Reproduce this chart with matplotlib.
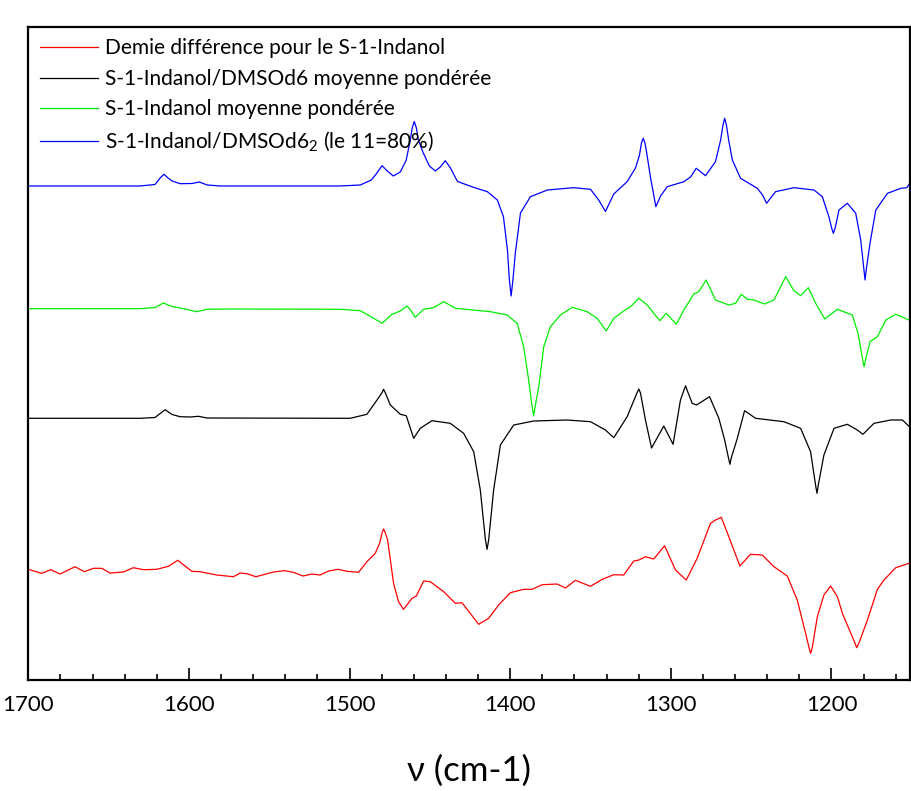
import matplotlib
matplotlib.use("Agg")
import matplotlib.pyplot as plt
from matplotlib.ticker import MultipleLocator

plt.rcParams['font.family'] = ['Lato', 'DejaVu Sans']
plt.rcParams['mathtext.fontset'] = 'custom'
plt.rcParams['mathtext.rm'] = 'Lato'

# Demie différence pour le S-1-Indanol (rouge)
wn_red = [1700, 1691.7, 1686, 1680.2, 1670.9, 1665.1, 1659.5, 1654.3, 1649.1, 1640.8,
          1634.6, 1628.3, 1620, 1612.8, 1606.9, 1598.2, 1593, 1582.6, 1572.3, 1568.1,
          1563.9, 1558.3, 1547.4, 1540.5, 1534.9, 1529, 1523.4, 1518.3, 1513.1, 1507.2,
          1501.6, 1494.4, 1489.2, 1484, 1481.3, 1479.6, 1478.8, 1477.9, 1476.3, 1472.6,
          1469.5, 1466.4, 1461.1, 1458.4, 1453.9, 1449.7, 1441.4, 1434.1, 1430, 1419.6,
          1413.4, 1407.2, 1399.9, 1391.6, 1386.4, 1380.1, 1370.8, 1365.6, 1359.4, 1350,
          1342.7, 1335.5, 1329.3, 1323.1, 1319.9, 1315.8, 1310.6, 1303.9, 1297.1, 1290.4,
          1283.6, 1275.3, 1272.2, 1268.6, 1263.9, 1257, 1250.4, 1243.1, 1235.8, 1227.5,
          1221.3, 1216.1, 1213.9, 1213, 1212, 1208.8, 1204.7, 1200.5, 1196.3, 1193.2,
          1185.4, 1184.3, 1182.9, 1177.6, 1171.4, 1167.3, 1160, 1150.6]
ab_red = [1.107, 1.067, 1.103, 1.06, 1.133, 1.083, 1.117, 1.117, 1.07, 1.08,
          1.123, 1.103, 1.107, 1.137, 1.197, 1.087, 1.083, 1.05, 1.033, 1.07,
          1.063, 1.033, 1.08, 1.093, 1.077, 1.04, 1.06, 1.05, 1.09, 1.107,
          1.087, 1.077, 1.183, 1.267, 1.367, 1.48, 1.51, 1.48, 1.40, 0.967,
          0.783, 0.707, 0.817, 0.84, 0.99, 0.983, 0.883, 0.767, 0.773, 0.557,
          0.617, 0.75, 0.873, 0.907, 0.907, 0.953, 0.96, 0.92, 0.997, 0.937,
          1.007, 1.053, 1.05, 1.19, 1.20, 1.233, 1.21, 1.343, 1.10, 1.00,
          1.217, 1.567, 1.60, 1.627, 1.433, 1.14, 1.257, 1.25, 1.133, 1.04,
          0.80, 0.467, 0.32, 0.267, 0.32, 0.633, 0.85, 0.94, 0.833, 0.667,
          0.37, 0.323, 0.37, 0.60, 0.907, 1.00, 1.123, 1.173]

# S-1-Indanol/DMSOd6 moyenne pondérée (noir)
wn_black = [1700, 1630.4, 1621.1, 1614.8, 1610.5, 1605.5, 1599.2, 1594.1, 1588.8, 1499.6,
            1489.2, 1482.9, 1479.9, 1478.8, 1477.7, 1474.6, 1468.4, 1464.7, 1462.8, 1460.1,
            1456, 1448.7, 1437.3, 1429, 1422.7, 1418.6, 1415.4, 1414.4, 1413.4, 1410.3,
            1406.1, 1397.8, 1385.4, 1364.6, 1350, 1340.7, 1335.5, 1327.2, 1321.1, 1319.9,
            1318.9, 1315.8, 1312, 1304.4, 1298.6, 1294, 1291.8, 1290.8, 1289.9, 1286.7,
            1284, 1275.9, 1270.1, 1266.5, 1264.1, 1263.2, 1262.4, 1258.6, 1254.1, 1247.2,
            1229.6, 1219.2, 1213, 1209.9, 1209, 1208.2, 1204.7, 1198.4, 1190.1, 1183.9,
            1180.4, 1173.5, 1163.1, 1155.8, 1151.1]
ab_black = [2.617, 2.617, 2.625, 2.703, 2.655, 2.633, 2.63, 2.637, 2.62, 2.617,
            2.657, 2.80, 2.87, 2.907, 2.87, 2.75, 2.657, 2.643, 2.55, 2.417,
            2.517, 2.593, 2.567, 2.467, 2.283, 1.90, 1.40, 1.307, 1.40, 1.90,
            2.35, 2.55, 2.59, 2.60, 2.583, 2.50, 2.423, 2.633, 2.87, 2.91,
            2.87, 2.60, 2.32, 2.54, 2.357, 2.80, 2.90, 2.943, 2.90, 2.767,
            2.75, 2.833, 2.617, 2.40, 2.22, 2.157, 2.22, 2.417, 2.693, 2.617,
            2.583, 2.517, 2.283, 1.95, 1.867, 1.95, 2.25, 2.517, 2.557, 2.50,
            2.457, 2.567, 2.60, 2.60, 2.527]

# S-1-Indanol moyenne pondérée (vert)
wn_green = [1700, 1630.4, 1621.1, 1615.9, 1610.5, 1605.5, 1595.1, 1588.8, 1574.3, 1505.8,
            1493.3, 1485, 1479.8, 1473.6, 1468.4, 1464.2, 1461.6, 1459.1, 1453.9, 1447.7,
            1441.4, 1434.1, 1412.3, 1401.9, 1395.7, 1391.6, 1388.5, 1386.5, 1385.4, 1384.3,
            1382.2, 1379.1, 1375, 1368.7, 1361.4, 1352.1, 1345.9, 1340.2, 1335.5, 1329.3,
            1325.1, 1319.9, 1314.7, 1306.9, 1302.9, 1296.6, 1291.9, 1285.7, 1282.6, 1278,
            1272.2, 1263.9, 1259.7, 1256.1, 1252.4, 1248.3, 1241.6, 1235.8, 1228.5, 1223.4,
            1219.2, 1214.4, 1209.8, 1204.2, 1196.3, 1187, 1183.5, 1180.5, 1179.7, 1178.8,
            1176, 1171.4, 1166.2, 1160, 1151.7, 1149.6]
ab_green = [3.713, 3.713, 3.725, 3.77, 3.735, 3.72, 3.683, 3.707, 3.71, 3.707,
            3.693, 3.617, 3.567, 3.657, 3.69, 3.74, 3.69, 3.627, 3.707, 3.723,
            3.783, 3.717, 3.683, 3.65, 3.567, 3.333, 3.00, 2.75, 2.64, 2.75,
            2.933, 3.333, 3.533, 3.65, 3.727, 3.683, 3.617, 3.49, 3.617, 3.69,
            3.733, 3.817, 3.75, 3.593, 3.667, 3.557, 3.70, 3.86, 3.883, 4.00,
            3.80, 3.75, 3.767, 3.857, 3.807, 3.80, 3.76, 3.80, 4.033, 3.893,
            3.843, 3.923, 3.767, 3.61, 3.707, 3.65, 3.467, 3.20, 3.133, 3.20,
            3.383, 3.433, 3.60, 3.657, 3.60, 3.627]

# S-1-Indanol/DMSOd6_2 (le 11=80%) (bleu)
wn_blue = [1700, 1630.4, 1621.1, 1617.9, 1615.5, 1613, 1610.5, 1605.5, 1598, 1593.6,
           1588.6, 1580.6, 1505.8, 1493.3, 1486.5, 1483.4, 1479.8, 1476.5, 1472.8, 1468.4,
           1464.7, 1462.2, 1461, 1459.7, 1458.4, 1457.2, 1454.1, 1450.3, 1446.6, 1443.5,
           1440.4, 1437.2, 1432.8, 1422.9, 1414.2, 1408, 1404.2, 1401.7, 1400.5, 1399.4,
           1398.3, 1396.8, 1393.6, 1387.4, 1376.8, 1360.6, 1350, 1344.9, 1340.7, 1335.5,
           1327.2, 1322, 1319.5, 1318.3, 1317.2, 1316.1, 1315.1, 1312.6, 1309.3, 1306.4,
           1302.2, 1291.9, 1287.7, 1284.2, 1278.4, 1272.2, 1269, 1267.5, 1266.5, 1265.4,
           1264, 1261.7, 1256.6, 1246.2, 1242.9, 1240.4, 1234.8, 1223.4, 1210.9, 1205.7,
           1201.6, 1199.9, 1198.8, 1197.7, 1195.3, 1190.1, 1184.9, 1181.8, 1179.9, 1179.1,
           1178.2, 1176, 1172.4, 1165.1, 1156.8, 1153.1, 1150.6]
ab_blue = [4.94, 4.94, 4.955, 5.02, 5.057, 5.02, 4.99, 4.963, 4.965, 4.98,
           4.95, 4.94, 4.94, 4.95, 5.00, 5.06, 5.143, 5.09, 5.04, 5.08,
           5.20, 5.40, 5.52, 5.585, 5.52, 5.40, 5.27, 5.14, 5.09, 5.13,
           5.193, 5.12, 4.985, 4.927, 4.883, 4.80, 4.633, 4.30, 4.00, 3.84,
           4.00, 4.27, 4.67, 4.833, 4.90, 4.923, 4.907, 4.80, 4.685, 4.86,
           4.983, 5.12, 5.25, 5.37, 5.417, 5.37, 5.28, 5.02, 4.733, 4.84,
           4.933, 4.983, 5.03, 5.117, 5.043, 5.183, 5.40, 5.55, 5.617, 5.55,
           5.40, 5.20, 5.017, 4.917, 4.85, 4.767, 4.883, 4.923, 4.90, 4.833,
           4.633, 4.52, 4.467, 4.52, 4.70, 4.767, 4.667, 4.40, 4.12, 4.00,
           4.12, 4.367, 4.70, 4.867, 4.917, 4.923, 4.983]

labels = ["Demie différence pour le S-1-Indanol",
          "S-1-Indanol/DMSOd6 moyenne pondérée",
          "S-1-Indanol moyenne pondérée",
          "S-1-Indanol/DMSOd6$_2$ (le 11=80%)"]
colors = ['#ff0000', '#000000', '#00ee00', '#0000ff']

fig = plt.figure(figsize=(9.12, 7.91), dpi=100)
ax = fig.add_axes([0.031, 0.1403, 0.967, 0.8256])

series = [(wn_red, ab_red), (wn_black, ab_black), (wn_green, ab_green), (wn_blue, ab_blue)]
for (wn, ab), lab, col in zip(series, labels, colors):
    ax.plot(wn, ab, color=col, lw=0.9, label=lab)

ax.set_xlim(1700, 1151)
ax.set_ylim(0, 6.53)
ax.set_yticks([])
ax.xaxis.set_major_locator(MultipleLocator(100))
ax.xaxis.set_minor_locator(MultipleLocator(20))
ax.tick_params(axis='x', which='major', direction='in', length=9, width=1.2,
               labelsize=16, pad=11, top=False)
ax.tick_params(axis='x', which='minor', direction='in', length=4.5, width=1.2, top=False)
for sp in ax.spines.values():
    sp.set_linewidth(1.6)

ax.set_xlabel("ν (cm-1)", fontsize=25, labelpad=28)

# légende sans cadre en haut à gauche
ax.legend(loc='upper left', frameon=False, fontsize=15, handlelength=2.8,
          handletextpad=0.35, labelspacing=0.5, borderaxespad=0.15,
          bbox_to_anchor=(0.0, 1.0))

fig.savefig("out.png", dpi=100)
